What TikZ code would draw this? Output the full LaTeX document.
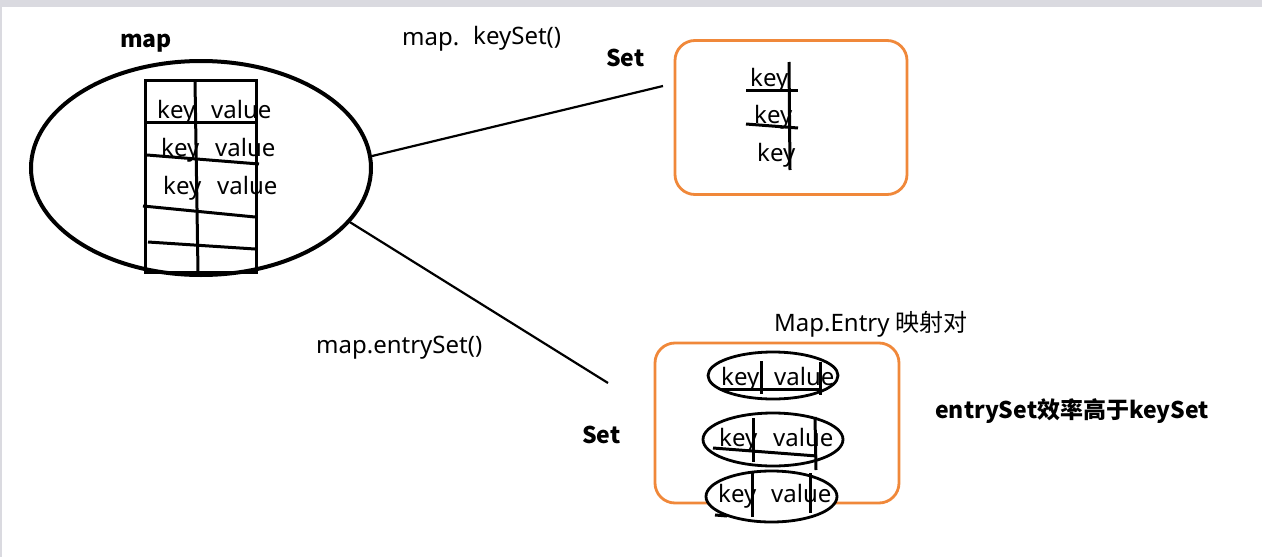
\documentclass[tikz,border=0pt]{standalone}
\usepackage{fontspec}
\setmainfont{Noto Sans}
\newfontfamily\cjk{Noto Sans CJK SC}
\usetikzlibrary{shapes.geometric}
\definecolor{boxorange}{RGB}{240,136,58}
\definecolor{topgrey}{RGB}{218,218,224}
\begin{document}
\begin{tikzpicture}[x=1pt,y=-1pt,
  txt/.style={inner sep=0pt, anchor=base west, font=\fontsize{24}{28}\selectfont},
  btxt/.style={inner sep=0pt, anchor=base west, font=\fontsize{23}{27}\selectfont\cjk\bfseries},
  ink/.style={line width=3pt, black},
  conn/.style={line width=2.2pt, black},
  orangebox/.style={draw=boxorange, line width=2.8pt, rounded corners=20pt, inner sep=0pt},
  pairel/.style={draw, ellipse, line width=2.8pt, fill=white, inner sep=0pt}]
\useasboundingbox (0,0) rectangle (1262,557);
\fill[white] (0,0) rectangle (1262,557);
\fill[topgrey] (0,0) rectangle (1262,7);
\fill[topgrey] (0,0) rectangle (2,557);

% ---- map ellipse and table
\node[btxt] (mapT) at (120,47) {map};
\node[draw, ellipse, line width=4pt, minimum width=340pt, minimum height=214pt, inner sep=0pt] (mapE) at (201,168) {};
\draw[ink] (145,80) rectangle (256,272);
\draw[ink] (195,81) -- (198,272);
\draw[ink] (145,122) -- (256,122);
\draw[ink] (147,155) -- (259,164);
\draw[ink] (143,206) -- (255,217);
\draw[ink] (148,242) -- (255,249);
\node[txt] (k1) at (157,118) {key};
\node[txt] (v1) at (211,118) {value};
\node[txt] (k2) at (161,156) {key};
\node[txt] (v2) at (215,156) {value};
\node[txt] (k3) at (163,194) {key};
\node[txt] (v3) at (217,194) {value};

% ---- labels
\node[txt] (mapdot) at (402,45) {map.};
\node[txt] (keyset) at (473,44) {keySet()};
\node[btxt] (set1) at (606,66) {Set};
\node[txt] (entryLbl) at (774,331) {Map.Entry {\cjk 映射对}};
\node[txt] (entryset) at (316,353) {map.entrySet()};
\node[btxt] (set2) at (582,443) {Set};
\node[btxt] (eff) at (935,418) {entrySet效率高于keySet};

% ---- keySet box
\node[orangebox, minimum width=232pt, minimum height=154pt] (ksBox) at (791,117.5) {};
\draw[ink] (789,62) -- (790,170);
\draw[ink] (746,90) -- (798,90);
\draw[ink] (746,124) -- (798,128);
\node[txt] (ks1) at (750,86) {key};
\node[txt] (ks2) at (754,123) {key};
\node[txt] (ks3) at (757,161) {key};

% ---- entrySet box
\node[orangebox, minimum width=244pt, minimum height=160pt] (esBox) at (777,423) {};
\node[pairel, minimum width=130pt, minimum height=47pt] (e1) at (773,375.5) {};
\node[pairel, minimum width=140pt, minimum height=53pt] (e2) at (773,439.5) {};
\node[pairel, minimum width=131pt, minimum height=51pt] (e3) at (771.5,496.5) {};
\draw[ink] (761,361) -- (761,394);
\draw[ink] (820,362) -- (820,395);
\draw[ink] (720,389) -- (822,389);
\draw[ink] (753,418) -- (753,462);
\draw[ink] (815,417) -- (816,470);
\draw[ink] (713,448) -- (817,456);
\draw[ink] (752,473) -- (752,517);
\draw[ink] (810,473) -- (810,513);
\draw[ink] (715,515) -- (727,516);
\node[txt] (ek1) at (721,385) {key};
\node[txt] (ev1) at (774,385) {value};
\node[txt] (ek2) at (719,446) {key};
\node[txt] (ev2) at (773,446) {value};
\node[txt] (ek3) at (718,502) {key};
\node[txt] (ev3) at (771,502) {value};

% ---- connectors
\coordinate (setTip) at (663,86);
\coordinate (entryTip) at (608,383);
\draw[conn] (mapE.4.4) -- (setTip);
\draw[conn] (mapE.-20.6) -- (entryTip);
\end{tikzpicture}
\end{document}
